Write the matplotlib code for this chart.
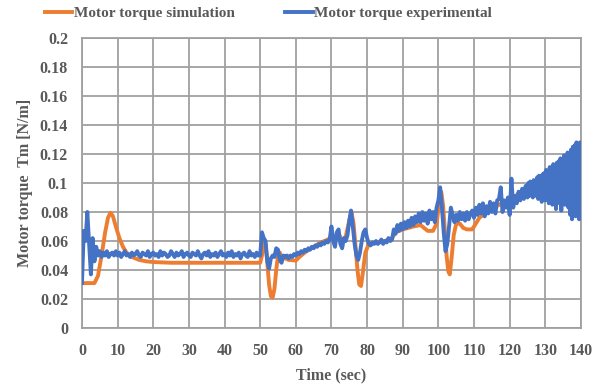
import numpy as np
import matplotlib
matplotlib.use("Agg")
import matplotlib.pyplot as plt
from matplotlib.lines import Line2D

# Simulated motor torque (smooth model response), sampled at key instants
sim_time = [0, 3.5, 4.5, 5.5, 6.5, 7.3, 8.0, 8.7, 9.5, 10.5, 11.5, 12.5, 14, 16, 18, 20, 25, 50,
            50.5, 51, 51.5, 52, 52.5, 53, 53.5, 54, 54.5, 55, 55.5, 56, 57, 58, 60,
            61, 63, 65, 67, 69, 70, 71, 72, 73, 74, 75, 75.6, 76.2, 76.8, 77.3, 77.8, 78.3, 78.8,
            79.5, 80.5, 82, 85, 87, 88, 90, 93, 95, 96, 97, 98.5, 99.5, 100.3, 100.8, 101.3,
            101.8, 102.3, 102.8, 103.2, 103.7, 104.3, 105, 106, 107, 108, 109.5, 110.5, 111.5,
            113, 115, 117, 120, 123, 126, 129.5, 132, 135, 140]
sim_torque = [0.031, 0.031, 0.036, 0.050, 0.066, 0.076, 0.0795, 0.077, 0.070, 0.062, 0.056, 0.052,
              0.049, 0.047, 0.046, 0.0455, 0.045, 0.045,
              0.050, 0.060, 0.058, 0.045, 0.030, 0.022, 0.021, 0.027, 0.040, 0.050, 0.052, 0.049,
              0.048, 0.047, 0.0465,
              0.049, 0.053, 0.056, 0.059, 0.061, 0.063, 0.061, 0.065, 0.060, 0.063, 0.074, 0.080,
              0.072, 0.055, 0.040, 0.030, 0.029, 0.038,
              0.052, 0.058, 0.059, 0.060, 0.062, 0.066, 0.068, 0.070, 0.071, 0.069, 0.067, 0.067,
              0.072, 0.088, 0.094, 0.085,
              0.068, 0.050, 0.039, 0.037, 0.048, 0.064, 0.072, 0.072, 0.069, 0.068, 0.068, 0.072,
              0.076,
              0.079, 0.082, 0.085, 0.089, 0.093, 0.096, 0.099, 0.101, 0.103, 0.106]

# Measured motor torque, 0.5 s samples from 0 to 125 s
exp_torque_a = [
    0.031, 0.067, 0.060, 0.080, 0.058, 0.037, 0.062, 0.046, 0.056, 0.050,
    0.053, 0.049, 0.052, 0.050, 0.053, 0.049, 0.051, 0.052, 0.050, 0.053,
    0.050, 0.052, 0.049, 0.051, 0.053, 0.050, 0.051, 0.049, 0.052, 0.050,
    0.051, 0.053, 0.050, 0.049, 0.052, 0.051, 0.050, 0.053, 0.049, 0.051,
    0.052, 0.050, 0.051, 0.049, 0.053, 0.050, 0.052, 0.051, 0.049, 0.050,
    0.053, 0.051, 0.049, 0.052, 0.050, 0.051, 0.053, 0.049, 0.051, 0.052,
    0.050, 0.049, 0.052, 0.051, 0.050, 0.053, 0.050, 0.048, 0.051, 0.052,
    0.050, 0.053, 0.049, 0.051, 0.050, 0.052, 0.049, 0.051, 0.053, 0.050,
    0.051, 0.049, 0.052, 0.050, 0.053, 0.049, 0.051, 0.050, 0.052, 0.048,
    0.051, 0.052, 0.050, 0.049, 0.053, 0.050, 0.051, 0.049, 0.052, 0.050,
    0.050, 0.066, 0.062, 0.060, 0.046, 0.041, 0.048, 0.050, 0.049, 0.055,
    0.054, 0.047, 0.045, 0.050, 0.049, 0.050, 0.048, 0.050, 0.049, 0.051,
    0.050, 0.052, 0.051, 0.053, 0.052, 0.054, 0.053, 0.055, 0.054, 0.056,
    0.055, 0.057, 0.056, 0.058, 0.057, 0.059, 0.058, 0.060, 0.059, 0.061,
    0.070, 0.060, 0.056, 0.066, 0.068, 0.058, 0.055, 0.062, 0.060, 0.064,
    0.074, 0.081, 0.070, 0.058, 0.050, 0.047, 0.052, 0.060, 0.066, 0.068,
    0.062, 0.058, 0.057, 0.059, 0.058, 0.060, 0.058, 0.059, 0.061, 0.058,
    0.060, 0.059, 0.062, 0.060, 0.061, 0.068, 0.065, 0.071, 0.067, 0.072,
    0.068, 0.073, 0.069, 0.074, 0.070, 0.076, 0.071, 0.077, 0.073, 0.079,
    0.073, 0.080, 0.074, 0.079, 0.072, 0.081, 0.075, 0.080, 0.073, 0.083,
    0.088, 0.097, 0.083, 0.066, 0.053, 0.058, 0.070, 0.083, 0.078, 0.073,
    0.078, 0.074, 0.080, 0.075, 0.079, 0.074, 0.080, 0.075, 0.079, 0.081,
    0.076, 0.083, 0.078, 0.085, 0.079, 0.086, 0.077, 0.084, 0.079, 0.087,
    0.080, 0.086, 0.079, 0.088, 0.089, 0.097, 0.080, 0.088, 0.083, 0.090,
    0.078, 0.103, 0.083, 0.091, 0.086, 0.094, 0.088, 0.096, 0.089, 0.098,
    0.090,
]
# Measured motor torque, 0.25 s samples from 125.25 to 140 s
exp_torque_b = [
    0.100, 0.091, 0.101, 0.092, 0.099, 0.090, 0.102, 0.093, 0.100, 0.091,
    0.104, 0.089, 0.105, 0.091, 0.103, 0.087, 0.106, 0.090, 0.107, 0.088,
    0.109, 0.089, 0.108, 0.086, 0.111, 0.090, 0.110, 0.085, 0.113, 0.087,
    0.112, 0.082, 0.114, 0.089, 0.115, 0.086, 0.117, 0.081, 0.116, 0.088,
    0.119, 0.085, 0.118, 0.089, 0.121, 0.083, 0.120, 0.078, 0.123, 0.075,
    0.125, 0.084, 0.126, 0.077, 0.128, 0.079, 0.127, 0.075, 0.128, 0.076,
]
exp_time = np.concatenate([np.arange(len(exp_torque_a)) * 0.5,
                           125.0 + (np.arange(len(exp_torque_b)) + 1) * 0.25])
exp_torque = exp_torque_a + exp_torque_b

x_ticks = list(range(0, 141, 10))
y_ticks = [0, 0.02, 0.04, 0.06, 0.08, 0.1, 0.12, 0.14, 0.16, 0.18, 0.2]
y_tick_labels = ["0", "0.02", "0.04", "0.06", "0.08", "0.1", "0.12", "0.14", "0.16", "0.18", "0.2"]

ORANGE = "#ED7D31"
BLUE = "#4472C4"
TEXT = "#595959"
GRID = "#a0a0a0"
LW = 2.8

plt.rcParams["font.family"] = ["Liberation Serif", "DejaVu Serif"]
plt.rcParams["font.weight"] = "bold"

fig = plt.figure(figsize=(5.94, 3.91), dpi=100)
ax = fig.add_axes([0.138, 0.161, 0.840, 0.742])

ax.plot(sim_time, sim_torque, color=ORANGE, lw=LW, solid_joinstyle="round", zorder=3)
ax.plot(exp_time, exp_torque, color=BLUE, lw=LW, solid_joinstyle="round", zorder=4)

ax.set_xlim(0, 140)
ax.set_ylim(0, 0.2)
ax.set_xticks(x_ticks)
ax.set_yticks(y_ticks)
ax.set_yticklabels(y_tick_labels)
ax.grid(True, color=GRID, lw=1.3)
ax.set_axisbelow(True)
for s in ax.spines.values():
    s.set_color(GRID)
    s.set_linewidth(1.3)
ax.tick_params(length=0, labelsize=11.5, labelcolor=TEXT)
ax.tick_params(axis="x", pad=11)
ax.tick_params(axis="y", pad=10)
for lab in ax.get_xticklabels() + ax.get_yticklabels():
    lab.set_fontweight("bold")

ax.set_xlabel("Time (sec)", fontsize=11.5, fontweight="bold", color=TEXT, labelpad=6)
ax.set_ylabel("Motor torque  Tm [N/m]", fontsize=11.5, fontweight="bold", color=TEXT, labelpad=5)

handles = [Line2D([], [], color=ORANGE, lw=LW), Line2D([], [], color=BLUE, lw=LW)]
fig.legend(handles, ["Motor torque simulation", "Motor torque experimental"],
           loc="center", bbox_to_anchor=(0.452, 0.966), ncol=2, frameon=False,
           prop={"size": 11, "weight": "bold"}, labelcolor=TEXT,
           handlelength=1.8, handletextpad=0.1, columnspacing=3.3)

fig.savefig("out.png", dpi=100)
